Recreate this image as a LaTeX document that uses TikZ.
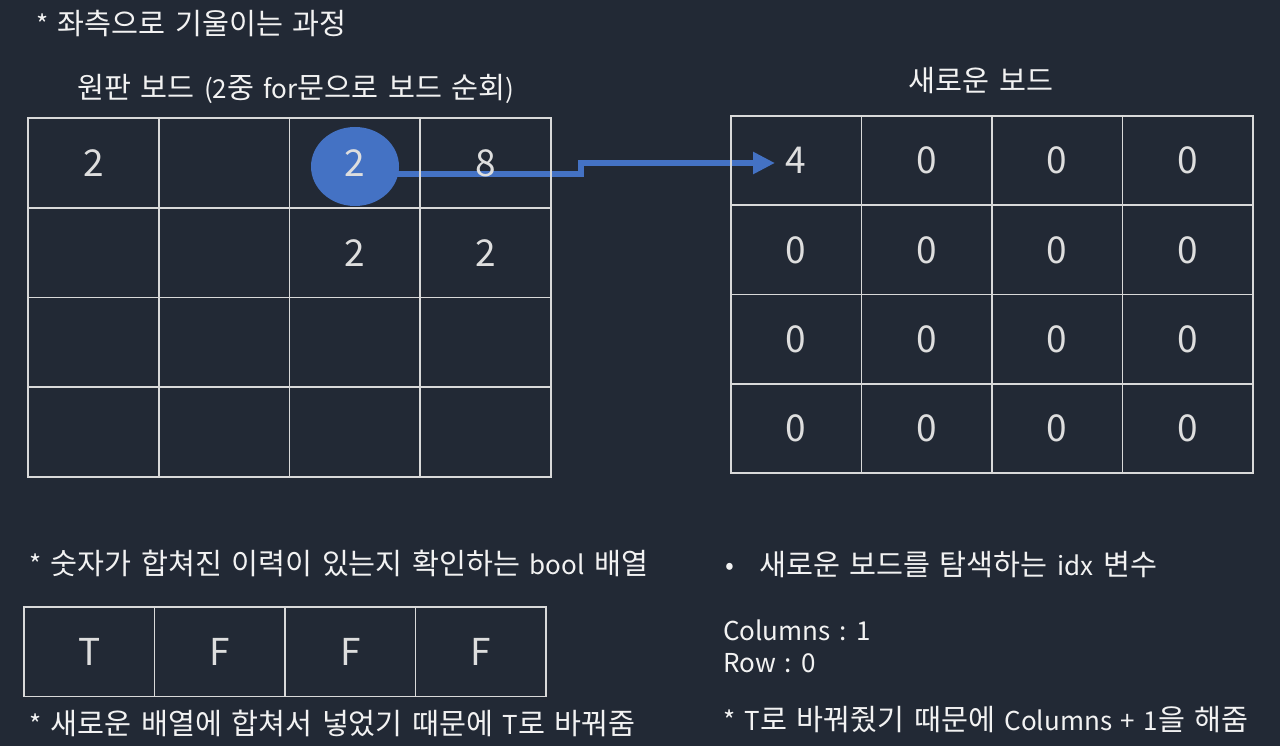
\documentclass[tikz,border=0pt]{standalone}
\usepackage{fontspec}
\setmainfont{Noto Sans CJK KR}
\newfontfamily\hangul[WordSpace=1.45]{Noto Sans CJK KR}
\newcommand\latin[1]{{\fontsize{26}{31}\selectfont #1}}
\usepackage{tikz}
\usetikzlibrary{arrows.meta,shapes.geometric}
\definecolor{slate}{RGB}{34,41,53}
\definecolor{ink}{RGB}{242,242,242}
\definecolor{digit}{RGB}{222,222,222}
\definecolor{rule}{RGB}{217,217,217}
\definecolor{accent}{RGB}{68,114,196}
\tikzset{
  cell/.style  = {shape=rectangle, draw=rule, line width=1.5pt,
                  minimum width=130.6pt, minimum height=89.5pt,
                  inner sep=0pt, text=digit,
                  font=\fontsize{37}{44}\selectfont},
  num/.style   = {inner sep=0pt, text=digit,
                  font=\fontsize{37}{44}\selectfont},
  note/.style  = {inner sep=0pt, text=ink, anchor=base west,
                  font=\hangul\fontsize{29.3}{34}\selectfont},
  plain/.style = {note, font=\hangul\fontsize{26}{31}\selectfont},
  flow/.style  = {draw=accent, line width=6pt,
                  -{Triangle[length=22pt,width=21pt]}},
}

\begin{document}
\begin{tikzpicture}[x=1pt, y=-1pt]
  \useasboundingbox (0,0) rectangle (1280,746);
  \fill [slate] (0,0) rectangle (1280,746);

  % headings
  \node [note] (title) at (36,35) {\latin{*} 좌측으로 기울이는 과정};
  \node [note] (oldcap) at (77,99) {원판 보드 \latin{(2}중 \latin{for}문으로 보드 순회\latin{)}};
  \node [note, anchor=base] (newcap) at (981,92) {새로운 보드};

  % picked tile
  \node [ellipse, fill=accent, minimum width=88pt, minimum height=79pt,
         inner sep=0pt] (pick) at (355,166.5) {};

  % move
  \coordinate (src)  at (397,174.5);
  \coordinate (bend) at (581,163);
  \coordinate (tip)  at (775,163);
  \draw [flow] (src) -| (bend) -- (tip);

  % original board
  \foreach \r in {0,...,3}
    \foreach \c in {0,...,3}
      \node [cell] (L-\r-\c) at ({28+130.75*(\c+0.5)}, {118+89.75*(\r+0.5)}) {};
  \node [num] at (L-0-0) {2};
  \node [num] at (L-0-2) {2};
  \node [num] at (L-0-3) {8};
  \node [num] at (L-1-2) {2};
  \node [num] at (L-1-3) {2};

  % new board
  \foreach \r in {0,...,3}
    \foreach \c in {0,...,3}
      \node [cell] (R-\r-\c) at ({731+130.5*(\c+0.5)}, {116+89.25*(\r+0.5)})
        {\ifnum\r\c=0 4\else 0\fi};

  % merge flags
  \node [note] (flagcap) at (29,574) {\latin{*} 숫자가 합쳐진 이력이 있는지 확인하는 \latin{bool} 배열};
  \foreach \v [count=\i from 0] in {T,F,F,F}
    \node [cell] (B-\i) at ({24+130.5*(\i+0.5)}, 651.5) {\v};
  \node [note] (flagnote) at (29,734) {\latin{*} 새로운 배열에 합쳐서 넣었기 때문에 \latin{T}로 바꿔줌};

  % index
  \node [plain] (dot) at (725,574) {•};
  \node [note] (idxcap) at (759,575) {새로운 보드를 탐색하는 \latin{idx} 변수};
  \node [plain] (cols) at (723,640) {Columns : 1};
  \node [plain] (rows) at (723,672) {Row : 0};
  \node [note] (idxnote) at (723,730) {\latin{*} \latin{T}로 바꿔줬기 때문에 \latin{Columns + 1}을 해줌};
\end{tikzpicture}
\end{document}
